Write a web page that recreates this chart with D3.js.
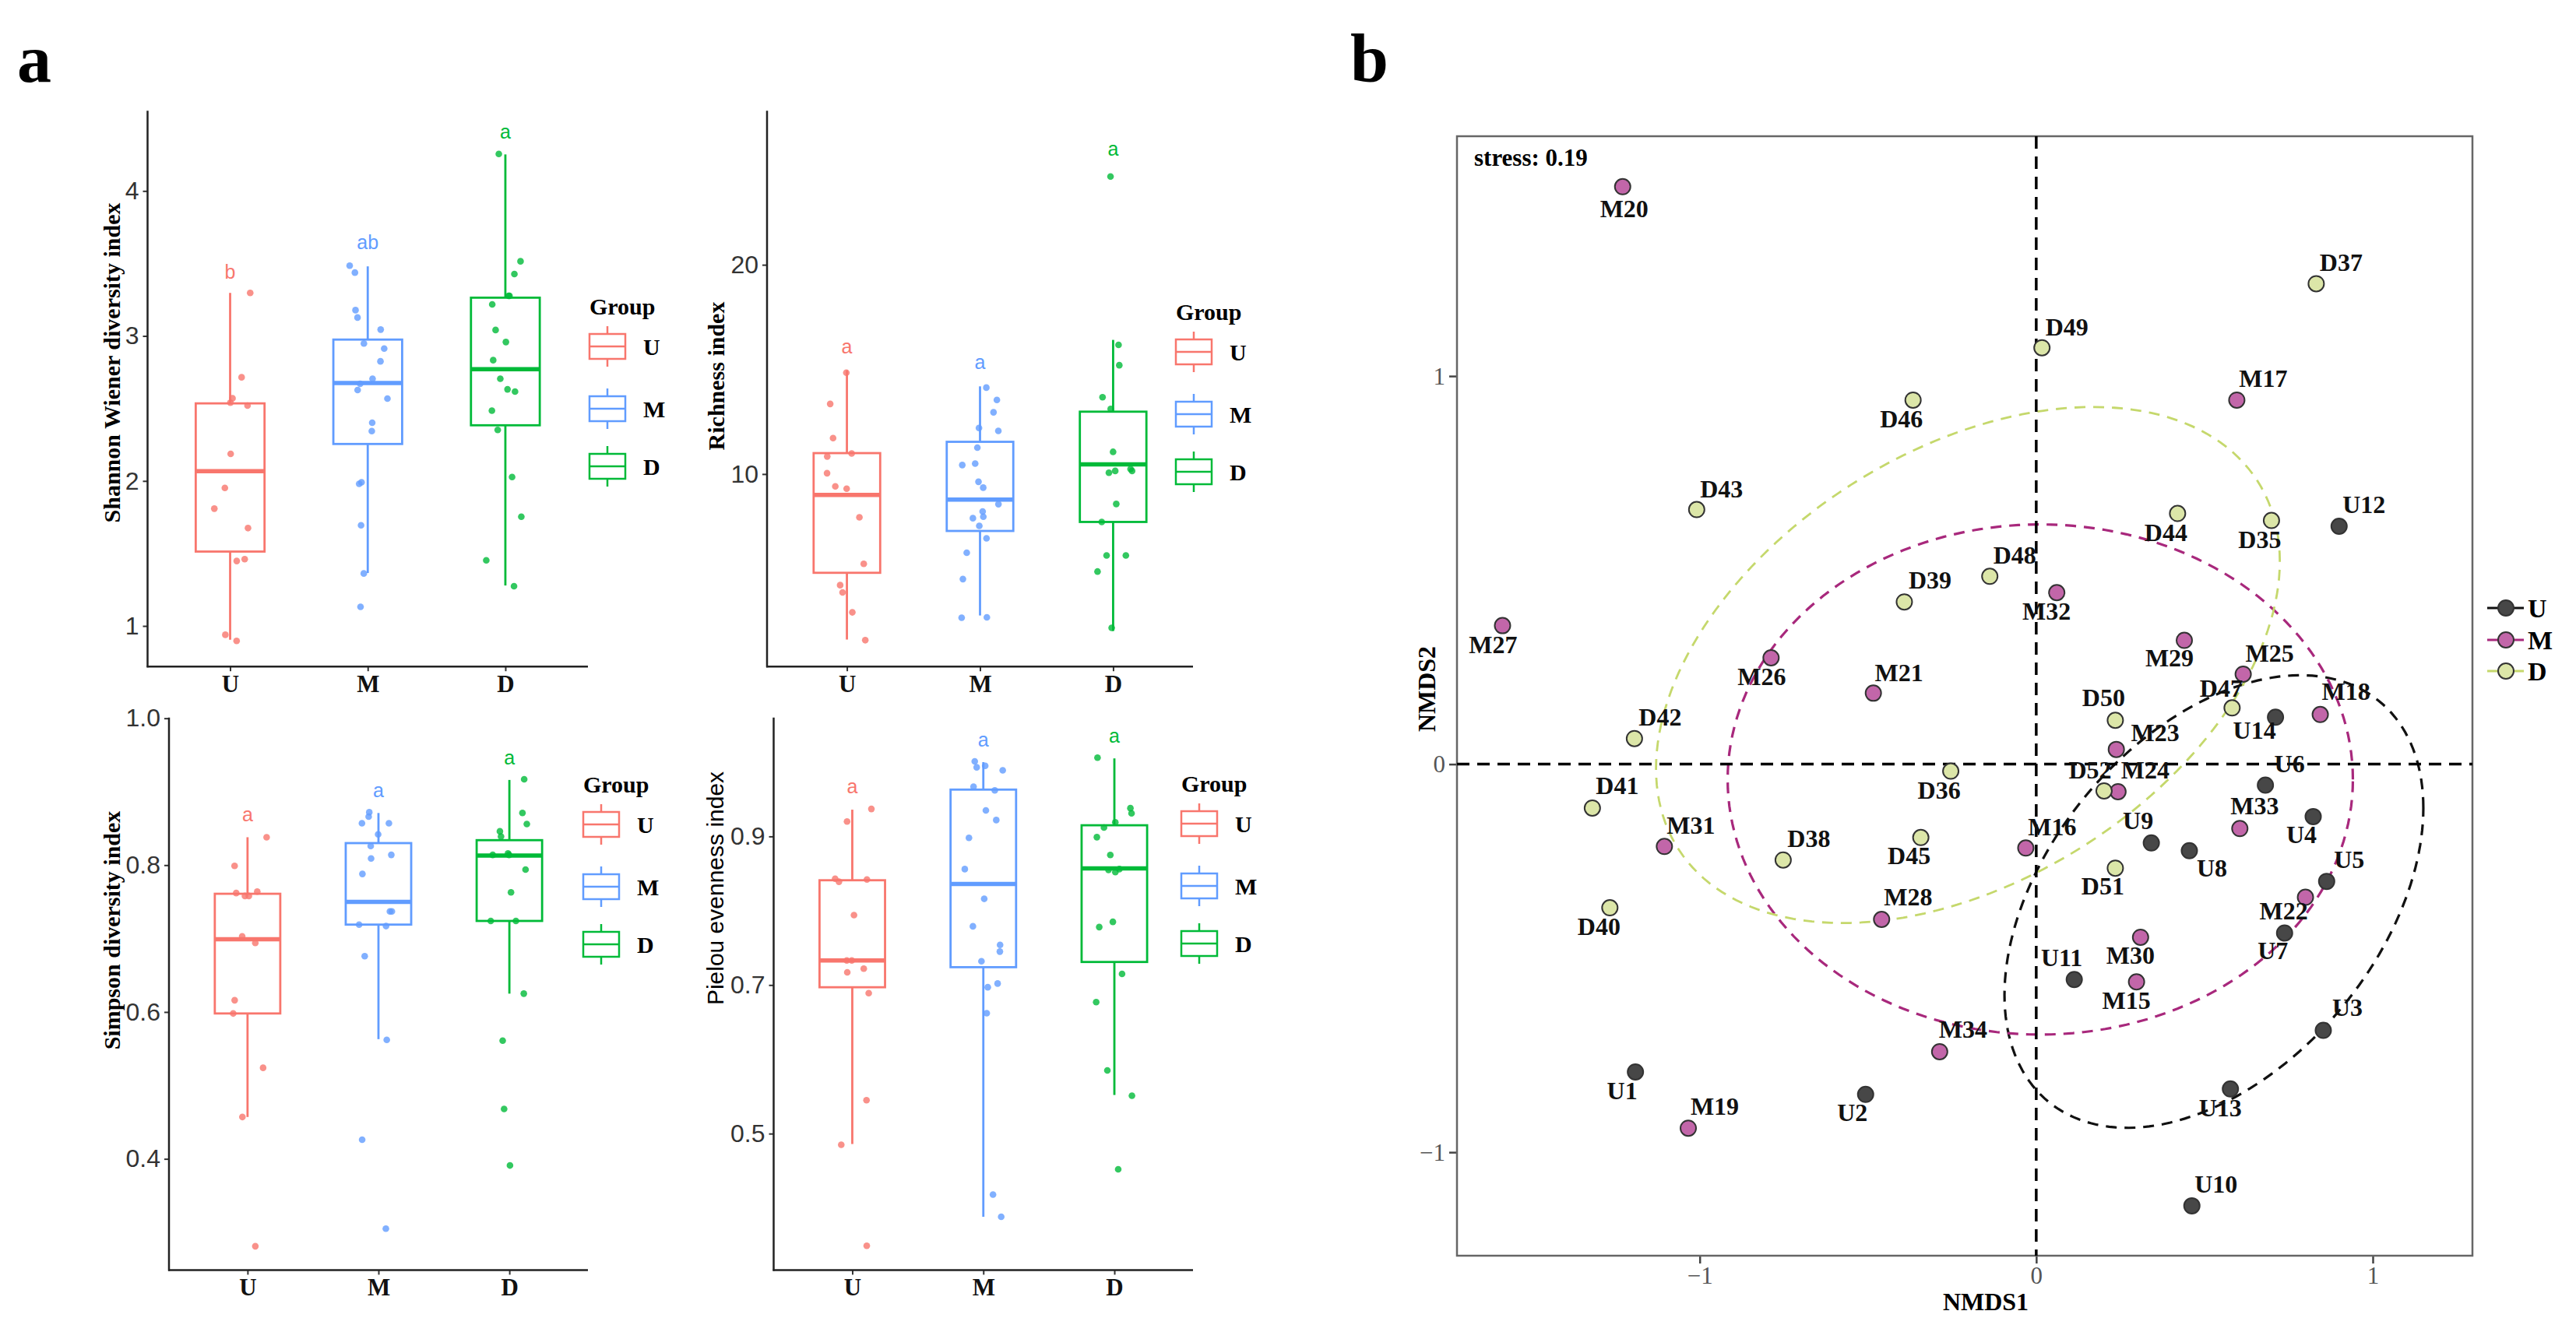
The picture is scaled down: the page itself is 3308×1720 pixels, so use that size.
<!DOCTYPE html>
<html>
<head>
<meta charset="utf-8">
<script src="https://cdn.jsdelivr.net/npm/d3@7"></script>
<style>body{margin:0;background:#fff}</style>
</head>
<body>
<div id="chart"></div>
<script>
const W = 3308, H = 1720;
const SERIF = "'Liberation Serif','Times New Roman',serif";
const SANS = "'Liberation Sans',Arial,sans-serif";

// ---- panel a data ----
const groups = ["U", "M", "D"];
const groupColors = ["#F8766D", "#619CFF", "#00BA38"];

const shannonU = [3.297, 2.715, 2.54, 2.57, 2.52, 2.187, 1.952, 1.809, 1.675, 1.448, 1.461, 0.939, 0.897];
const shannonM = [3.485, 3.437, 3.178, 3.127, 3.044, 2.948, 2.913, 2.825, 2.705, 2.627, 2.67, 2.568, 2.402, 2.344, 1.98, 1.991, 1.694, 1.362, 1.132];
const shannonD = [4.255, 3.515, 3.427, 3.277, 3.277, 3.218, 3.041, 2.958, 2.833, 2.705, 2.632, 2.616, 2.485, 2.352, 2.027, 1.753, 1.453, 1.274];
// lower whisker, q1, median, q3, upper whisker
const shannonStats = [[0.905, 1.513, 2.067, 2.535, 3.297], [1.365, 2.255, 2.675, 2.975, 3.48], [1.279, 2.384, 2.771, 3.264, 4.252]];
const shannonLetters = ["b", "ab", "a"];
const shannonLetterY = [3.445, 3.646, 4.41];
const shannonTicks = [1, 2, 3, 4];

const richnessU = [14.84, 13.35, 11.72, 10.98, 10.84, 10.04, 9.41, 9.30, 7.93, 5.71, 4.69, 4.34, 3.39, 2.06];
const richnessM = [14.13, 13.54, 12.95, 12.2, 12.06, 11.26, 10.43, 10.5, 9.63, 9.35, 8.56, 8.21, 7.89, 7.96, 7.52, 6.93, 6.24, 4.98, 3.13, 3.15];
const richnessD = [24.22, 16.17, 15.2, 13.67, 13.11, 11.06, 10.15, 10.15, 10.06, 10.24, 8.57, 7.71, 6.11, 6.11, 5.34, 2.65];
const richnessStats = [[2.09, 5.28, 9.0, 11.0, 14.96], [3.24, 7.28, 8.78, 11.54, 14.19], [2.5, 7.71, 10.46, 12.98, 16.41]];
const richnessLetters = ["a", "a", "a"];
const richnessLetterY = [16.11, 15.34, 25.56];
const richnessTicks = [10, 20];

const simpsonU = [0.838, 0.799, 0.762, 0.758, 0.764, 0.758, 0.694, 0.703, 0.616, 0.598, 0.524, 0.457, 0.281];
const simpsonM = [0.872, 0.866, 0.857, 0.857, 0.842, 0.826, 0.814, 0.809, 0.788, 0.737, 0.737, 0.719, 0.717, 0.676, 0.562, 0.426, 0.305];
const simpsonD = [0.917, 0.871, 0.856, 0.846, 0.839, 0.816, 0.814, 0.814, 0.794, 0.763, 0.724, 0.724, 0.625, 0.561, 0.468, 0.391];
const simpsonStats = [[0.457, 0.598, 0.699, 0.761, 0.838], [0.563, 0.719, 0.750, 0.830, 0.871], [0.625, 0.724, 0.813, 0.834, 0.916]];
const simpsonLetters = ["a", "a", "a"];
const simpsonLetterY = [0.869, 0.902, 0.947];
const simpsonTicks = [0.4, 0.6, 0.8, 1.0];

const pielouU = [0.937, 0.920, 0.843, 0.842, 0.839, 0.794, 0.733, 0.733, 0.722, 0.717, 0.689, 0.545, 0.485, 0.349];
const pielouM = [1.001, 0.995, 0.989, 0.993, 0.967, 0.962, 0.935, 0.922, 0.898, 0.856, 0.816, 0.779, 0.754, 0.745, 0.732, 0.702, 0.697, 0.662, 0.418, 0.388];
const pielouD = [1.006, 0.938, 0.931, 0.919, 0.912, 0.899, 0.875, 0.855, 0.852, 0.856, 0.785, 0.778, 0.715, 0.677, 0.585, 0.551, 0.452];
const pielouStats = [[0.486, 0.697, 0.733, 0.841, 0.936], [0.388, 0.724, 0.836, 0.963, 1.0], [0.552, 0.731, 0.857, 0.915, 1.005]];
const pielouLetters = ["a", "a", "a"];
const pielouLetterY = [0.967, 1.030, 1.036];
const pielouTicks = [0.5, 0.7, 0.9];

// ---- panel b data (NMDS) ----
const nmdsNames = ["U1","U2","U3","U4","U5","U6","U7","U8","U9","U10","U11","U12","U13","U14",
  "M15","M16","M17","M18","M19","M20","M21","M22","M23","M24","M25","M26","M27","M28","M29","M30","M31","M32","M33","M34",
  "D35","D36","D37","D38","D39","D40","D41","D42","D43","D44","D45","D46","D47","D48","D49","D50","D51","D52"];
const nmds1 = [-1.191,-0.507,0.853,0.823,0.863,0.681,0.738,0.455,0.342,0.4625,0.113,0.900,0.577,0.711,
  0.298,-0.031,0.596,0.844,-1.034,-1.229,-0.484,0.800,0.238,0.243,0.615,-0.788,-1.586,-0.4595,0.440,0.310,-1.105,0.061,0.605,-0.287,
  0.699,-0.254,0.832,-0.752,-0.392,-1.267,-1.319,-1.194,-1.009,0.420,-0.343,-0.366,0.582,-0.138,0.017,0.235,0.235,0.2015];
const nmds2 = [-0.793,-0.851,-0.686,-0.135,-0.302,-0.054,-0.435,-0.223,-0.203,-1.138,-0.555,0.613,-0.837,0.121,
  -0.561,-0.216,0.938,0.128,-0.938,1.488,0.183,-0.343,0.038,-0.071,0.232,0.274,0.357,-0.400,0.319,-0.446,-0.212,0.442,-0.166,-0.741,
  0.628,-0.018,1.238,-0.247,0.418,-0.370,-0.113,0.066,0.656,0.646,-0.189,0.938,0.145,0.484,1.073,0.113,-0.268,-0.069];
const nmdsStress = "stress: 0.19";
const nmdsTicks = [-1, 0, 1];
const nmdsFill = ["#474747", "#C266A9", "#DCE6A8"];
const ellipseColors = ["#111111", "#A8287C", "#C5D86C"];
// ellipse centre and shape (covariance-like) per group
const ellipseCx = [0.528, 0.012, -0.203];
const ellipseCy = [-0.354, -0.0395, 0.2555];
const ellipseSxx = [0.3873, 0.863, 0.859];
const ellipseSyy = [0.340, 0.432, 0.442];
const ellipseSxy = [0.15, 0.0, 0.2475];

// label nudges (px) as placed in the figure
const labelNudge = {
  M20:[2,28], D46:[-15,24.5], D43:[32,-27], D39:[33,-28], M27:[-12,24.5], M26:[-12,24], M21:[33,-26.5],
  D37:[32,-27.5], D49:[32,-27], M17:[34,-28], D44:[-15,24], D35:[-15,24], U12:[32,-28], D48:[32,-27],
  M32:[-13,23.5], M29:[-19,22], M25:[34,-26.5], D47:[-14,-25.5], M18:[33,-30], U14:[-27,17], D50:[-15,-29],
  M23:[50,-22], D52:[-18,-26.5], M24:[35,-27.5], U6:[31,-28], M33:[19,-29], U4:[-15,23.5], M16:[34,-27],
  U9:[-17,-28.5], U8:[29,22.5], D51:[-16,23], U5:[29,-28], M22:[-28,17], U7:[-15,23], M30:[-13,23.5],
  U11:[-16,-28], M15:[-13,24], U3:[31,-29.5], U13:[-13,24], U10:[31,-27.5], M34:[30,-28.5], D42:[33,-28],
  D41:[32,-29], M31:[34,-27.5], D38:[33,-27.5], D45:[-15,23], D36:[-15,24], D40:[-14,23.5], M28:[34,-28.5],
  U1:[-17,24], M19:[34,-28.5], U2:[-17,23.5]
};

const svg = d3.select("#chart").append("svg")
  .attr("width", W).attr("height", H)
  .style("display", "block")
  .style("background", "#fff");

// panel letters
svg.append("text").attr("x", 22).attr("y", 105).text("a")
  .style("font-family", SERIF).style("font-weight", "bold").style("font-size", "88px");
svg.append("text").attr("x", 1734).attr("y", 105).text("b")
  .style("font-family", SERIF).style("font-weight", "bold").style("font-size", "88px");

const boxPanels = [
  {values: [shannonU, shannonM, shannonD], stats: shannonStats, letters: shannonLetters, letterY: shannonLetterY,
   ticks: shannonTicks, fmt: d3.format("d"), title: "Shannon Wiener diversity index", titleSerif: true,
   x0: 189.5, x1: 755, y0: 142.3, y1: 856.2, domain: [0.72, 4.553], titleX: 143.5, titleY: 466, legX: 757, legY: 404, seed: 0.11},
  {values: [richnessU, richnessM, richnessD], stats: richnessStats, letters: richnessLetters, letterY: richnessLetterY,
   ticks: richnessTicks, fmt: d3.format("d"), title: "Richness index", titleSerif: true,
   x0: 985, x1: 1532, y0: 142.3, y1: 856.2, domain: [0.8, 27.36], titleX: 919, titleY: 483, legX: 1510, legY: 411, seed: 0.37},
  {values: [simpsonU, simpsonM, simpsonD], stats: simpsonStats, letters: simpsonLetters, letterY: simpsonLetterY,
   ticks: simpsonTicks, fmt: d3.format(".1f"), title: "Simpson diversity index", titleSerif: true,
   x0: 217, x1: 755, y0: 921.7, y1: 1631.4, domain: [0.2486, 1.001], titleX: 143.5, titleY: 1195, legX: 749, legY: 1018, seed: 0.59},
  {values: [pielouU, pielouM, pielouD], stats: pielouStats, letters: pielouLetters, letterY: pielouLetterY,
   ticks: pielouTicks, fmt: d3.format(".1f"), title: "Pielou evenness index", titleSerif: false,
   x0: 993.5, x1: 1532, y0: 921.7, y1: 1631.4, domain: [0.3164, 1.06], titleX: 918, titleY: 1141, legX: 1517, legY: 1017, seed: 0.83}
];

function drawBoxPanel(p) {
  const g = svg.append("g");
  const x = d3.scalePoint().domain(groups).range([p.x0, p.x1]).padding(0.6);
  const y = d3.scaleLinear().domain(p.domain).range([p.y1, p.y0]);
  const step = x.step();
  const bw = step * 0.5;

  // y axis
  const ya = g.append("g").attr("transform", `translate(${p.x0},0)`)
    .call(d3.axisLeft(y).tickValues(p.ticks).tickFormat(p.fmt).tickSize(6).tickPadding(5));
  ya.select(".domain").remove();
  ya.selectAll(".tick line").attr("stroke", "#333").attr("stroke-width", 2);
  ya.selectAll(".tick text").attr("fill", "#333")
    .style("font-family", SANS).style("font-size", "32px");

  // x axis
  const xa = g.append("g").attr("transform", `translate(0,${p.y1})`)
    .call(d3.axisBottom(x).tickSize(6).tickPadding(5));
  xa.select(".domain").remove();
  xa.selectAll(".tick line").attr("stroke", "#333").attr("stroke-width", 2);
  xa.selectAll(".tick text").attr("fill", "#111")
    .style("font-family", SERIF).style("font-weight", "bold").style("font-size", "31px");

  g.append("line").attr("x1", p.x0).attr("x2", p.x0).attr("y1", p.y0).attr("y2", p.y1 + 1)
    .attr("stroke", "#222").attr("stroke-width", 2.5);
  g.append("line").attr("x1", p.x0 - 1).attr("x2", p.x1).attr("y1", p.y1).attr("y2", p.y1)
    .attr("stroke", "#222").attr("stroke-width", 2.5);

  // title
  g.append("text").attr("transform", `translate(${p.titleX},${p.titleY}) rotate(-90)`)
    .attr("text-anchor", "middle").attr("dominant-baseline", "central")
    .text(p.title)
    .style("font-family", p.titleSerif ? SERIF : SANS)
    .style("font-weight", p.titleSerif ? "bold" : "normal")
    .style("font-size", "30px");

  // boxes
  groups.forEach((grp, i) => {
    const [lo, q1, med, q3, hi] = p.stats[i];
    const cx = x(grp), col = groupColors[i];
    const bg = g.append("g").attr("stroke", col).attr("stroke-width", 2.8);
    bg.append("line").attr("x1", cx).attr("x2", cx).attr("y1", y(hi)).attr("y2", y(q3));
    bg.append("line").attr("x1", cx).attr("x2", cx).attr("y1", y(q1)).attr("y2", y(lo));
    bg.append("rect").attr("x", cx - bw / 2).attr("y", y(q3))
      .attr("width", bw).attr("height", y(q1) - y(q3)).attr("fill", "#fff");
    bg.append("line").attr("x1", cx - bw / 2).attr("x2", cx + bw / 2)
      .attr("y1", y(med)).attr("y2", y(med)).attr("stroke-width", 5.5);
  });

  // jittered points
  const jit = d3.randomUniform.source(d3.randomLcg(p.seed))(-0.15 * step, 0.15 * step);
  groups.forEach((grp, i) => {
    g.append("g").selectAll("circle").data(p.values[i]).join("circle")
      .attr("cx", () => x(grp) + jit())
      .attr("cy", d => y(d))
      .attr("r", 4.3)
      .attr("fill", groupColors[i])
      .attr("fill-opacity", 0.8);
  });

  // significance letters
  g.append("g").selectAll("text").data(p.letters).join("text")
    .attr("x", (d, i) => x(groups[i]))
    .attr("y", (d, i) => y(p.letterY[i]))
    .attr("text-anchor", "middle").attr("dominant-baseline", "central")
    .attr("fill", (d, i) => groupColors[i])
    .style("font-family", SANS).style("font-size", "25px")
    .text(d => d);

  // legend
  const lg = g.append("g").attr("transform", `translate(${p.legX},${p.legY})`);
  lg.append("text").attr("x", 0).attr("y", 0).text("Group")
    .style("font-family", SERIF).style("font-weight", "bold").style("font-size", "30px");
  const keyY = [41, 121, 195];
  groups.forEach((grp, i) => {
    const k = lg.append("g").attr("transform", `translate(0,${keyY[i]})`)
      .attr("stroke", groupColors[i]).attr("stroke-width", 2.5).attr("fill", "#fff");
    k.append("line").attr("x1", 23).attr("x2", 23).attr("y1", -26).attr("y2", 26);
    k.append("rect").attr("x", 0).attr("y", -16).attr("width", 46).attr("height", 32);
    k.append("line").attr("x1", 0).attr("x2", 46).attr("y1", 0).attr("y2", 0);
    lg.append("text").attr("x", 69).attr("y", keyY[i]).attr("dominant-baseline", "central")
      .text(grp)
      .style("font-family", SERIF).style("font-weight", "bold").style("font-size", "30px");
  });
}

boxPanels.forEach(drawBoxPanel);

// ---- NMDS panel ----
const nm = {x0: 1871, x1: 3175, y0: 175, y1: 1613};
const nx = d3.scaleLinear().domain([-1.7213, 1.2962]).range([nm.x0, nm.x1]);
const ny = d3.scaleLinear().domain([-1.2666, 1.618]).range([nm.y1, nm.y0]);
const minusFmt = d => d < 0 ? "\u2212" + Math.abs(d) : String(d);
const ng = svg.append("g");

const nya = ng.append("g").attr("transform", `translate(${nm.x0},0)`)
  .call(d3.axisLeft(ny).tickValues(nmdsTicks).tickFormat(minusFmt).tickSize(10).tickPadding(5));
const nxa = ng.append("g").attr("transform", `translate(0,${nm.y1})`)
  .call(d3.axisBottom(nx).tickValues(nmdsTicks).tickFormat(minusFmt).tickSize(10).tickPadding(4));
[nya, nxa].forEach(a => {
  a.select(".domain").remove();
  a.selectAll(".tick line").attr("stroke", "#444").attr("stroke-width", 2.5);
  a.selectAll(".tick text").attr("fill", "#555")
    .style("font-family", SERIF).style("font-size", "31px");
});

ng.append("rect").attr("x", nm.x0).attr("y", nm.y0)
  .attr("width", nm.x1 - nm.x0).attr("height", nm.y1 - nm.y0)
  .attr("fill", "none").attr("stroke", "#666").attr("stroke-width", 2.5);

// ellipses
const ellipseLine = d3.line().x(d => nx(d[0])).y(d => ny(d[1])).curve(d3.curveLinearClosed);
groups.forEach((grp, i) => {
  const l11 = Math.sqrt(ellipseSxx[i]);
  const l21 = ellipseSxy[i] / l11;
  const l22 = Math.sqrt(ellipseSyy[i] - l21 * l21);
  const pts = d3.range(0, 2 * Math.PI, Math.PI / 90).map(t =>
    [ellipseCx[i] + l11 * Math.cos(t), ellipseCy[i] + l21 * Math.cos(t) + l22 * Math.sin(t)]);
  ng.append("path").attr("d", ellipseLine(pts))
    .attr("fill", "none").attr("stroke", ellipseColors[i])
    .attr("stroke-width", i === 2 ? 2.8 : 3.2)
    .attr("stroke-dasharray", "14,10");
});

// zero lines
ng.append("line").attr("x1", nm.x0).attr("x2", nm.x1).attr("y1", ny(0)).attr("y2", ny(0))
  .attr("stroke", "#000").attr("stroke-width", 3.5).attr("stroke-dasharray", "16,10");
ng.append("line").attr("x1", nx(0)).attr("x2", nx(0)).attr("y1", nm.y0).attr("y2", nm.y1)
  .attr("stroke", "#000").attr("stroke-width", 3.5).attr("stroke-dasharray", "16,10");

const nmdsRows = nmdsNames.map((n, i) => ({name: n, g: groups.indexOf(n[0]), x: nmds1[i], y: nmds2[i]}));

ng.append("g").selectAll("circle").data(nmdsRows).join("circle")
  .attr("cx", d => nx(d.x)).attr("cy", d => ny(d.y)).attr("r", 10)
  .attr("fill", d => nmdsFill[d.g])
  .attr("stroke", "#333").attr("stroke-width", 2);

ng.append("g").selectAll("text").data(nmdsRows).join("text")
  .attr("x", d => nx(d.x) + (labelNudge[d.name] || [0, -25])[0])
  .attr("y", d => ny(d.y) + (labelNudge[d.name] || [0, -25])[1])
  .attr("text-anchor", "middle").attr("dominant-baseline", "central")
  .style("font-family", SERIF).style("font-weight", "bold").style("font-size", "32px")
  .attr("fill", "#111")
  .text(d => d.name);

ng.append("text").attr("x", 1893).attr("y", 213).text(nmdsStress)
  .style("font-family", SERIF).style("font-weight", "bold").style("font-size", "31px");

ng.append("text").attr("x", 2550).attr("y", 1683).attr("text-anchor", "middle").text("NMDS1")
  .style("font-family", SERIF).style("font-weight", "bold").style("font-size", "32px");
ng.append("text").attr("transform", "translate(1832,885) rotate(-90)")
  .attr("text-anchor", "middle").attr("dominant-baseline", "central").text("NMDS2")
  .style("font-family", SERIF).style("font-weight", "bold").style("font-size", "32px");

// NMDS legend
const nlg = ng.append("g");
const nKeyY = [781, 822, 862];
groups.forEach((grp, i) => {
  nlg.append("line").attr("x1", 3194).attr("x2", 3241).attr("y1", nKeyY[i]).attr("y2", nKeyY[i])
    .attr("stroke", ellipseColors[i]).attr("stroke-width", 3);
  nlg.append("circle").attr("cx", 3218).attr("cy", nKeyY[i]).attr("r", 10)
    .attr("fill", nmdsFill[i]).attr("stroke", "#333").attr("stroke-width", 2);
  nlg.append("text").attr("x", 3246).attr("y", nKeyY[i]).attr("dominant-baseline", "central")
    .text(grp)
    .style("font-family", SERIF).style("font-weight", "bold").style("font-size", "34px");
});
</script>
</body>
</html>
